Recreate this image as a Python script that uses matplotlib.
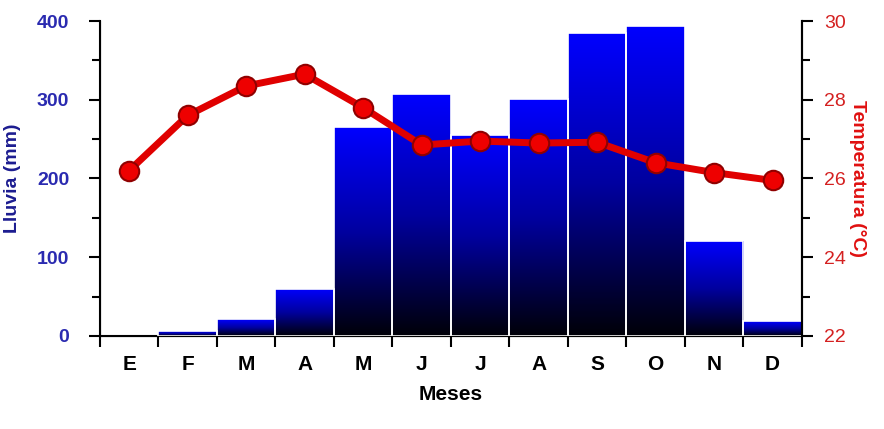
import numpy as np
import matplotlib.pyplot as plt
from matplotlib.ticker import MultipleLocator
from matplotlib.colors import LinearSegmentedColormap

plt.rcParams['font.family'] = ['Liberation Sans', 'DejaVu Sans']

meses = ['E', 'F', 'M', 'A', 'M', 'J', 'J', 'A', 'S', 'O', 'N', 'D']
lluvia = [0, 6, 21, 60, 265, 307, 255, 301, 385, 394, 121, 19]
temperatura = [26.2, 27.6, 28.35, 28.65, 27.8, 26.85, 26.95, 26.9, 26.92, 26.4, 26.15, 25.95]

x = np.arange(len(meses))

fig = plt.figure(figsize=(8.84, 4.29), dpi=100)
ax = fig.add_axes([0.113, 0.217, 0.794, 0.734])

bars = ax.bar(x, lluvia, width=1.0, color='#0000ee', edgecolor='white', linewidth=1.2, zorder=2)

# degradado azul -> negro dentro de cada barra
grad = np.linspace(0, 1, 256).reshape(-1, 1)
cmap = LinearSegmentedColormap.from_list('azul', ['#000008', '#0000a0', '#0000ff'])
for b in bars:
    h = b.get_height()
    if h <= 0:
        continue
    x0 = b.get_x()
    im = ax.imshow(grad, cmap=cmap, aspect='auto', origin='lower',
                   extent=[x0, x0 + b.get_width(), 0, h], zorder=2.5)
    im.set_clip_path(b)
    ax.bar(x0 + b.get_width() / 2, h, width=1.0, fill=False, edgecolor='white', linewidth=1.2, zorder=3)

ax.set_xlim(-0.5, 11.5)
ax.set_ylim(0, 400)
ax.yaxis.set_major_locator(MultipleLocator(100))
ax.yaxis.set_minor_locator(MultipleLocator(50))
ax.set_xticks(np.arange(-0.5, 12, 1))
ax.set_xticklabels([])
ax.set_xticks(x, minor=True)
ax.set_xticklabels(meses, minor=True, fontsize=15, fontweight='bold')
ax.tick_params(axis='x', which='major', length=8, width=1.5, direction='out')
ax.tick_params(axis='x', which='minor', length=0, pad=14)
ax.tick_params(axis='y', which='major', length=8, width=1.5, labelsize=14, labelcolor='#2a2ab0', pad=14)
ax.tick_params(axis='y', which='minor', length=6, width=1.5)
for t in ax.get_yticklabels():
    t.set_fontweight('bold')
ax.spines['top'].set_visible(False)
for s in ['left', 'bottom', 'right']:
    ax.spines[s].set_linewidth(1.5)
ax.set_xlabel('Meses', fontsize=15, fontweight='bold', labelpad=8)
ax.set_ylabel('Lluvia (mm)', fontsize=14, fontweight='bold', color='#1c1c90')
ax.yaxis.set_label_coords(-0.112, 0.5)

ax2 = ax.twinx()
ax2.plot(x, temperatura, color='#e00000', linewidth=5, marker='o', markersize=14,
         markerfacecolor='#ee0000', markeredgecolor='#900000', markeredgewidth=1.5, zorder=5)
ax2.set_ylim(22, 30)
ax2.yaxis.set_major_locator(MultipleLocator(2))
ax2.yaxis.set_minor_locator(MultipleLocator(1))
ax2.tick_params(axis='y', which='major', length=8, width=1.5, labelsize=14, labelcolor='#d42020', pad=8)
ax2.tick_params(axis='y', which='minor', length=6, width=1.5)
ax2.spines['top'].set_visible(False)
ax2.spines['right'].set_linewidth(1.5)
ax2.set_ylabel('Temperatura (°C)', fontsize=14, fontweight='bold', color='#e01010', rotation=270)
ax2.yaxis.set_label_coords(1.092, 0.5)

fig.savefig('out.png', dpi=100)
